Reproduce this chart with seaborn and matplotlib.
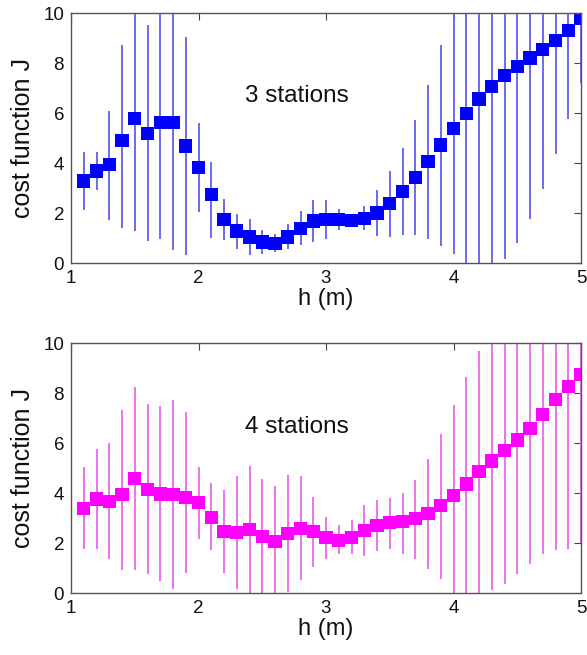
import numpy as np
import pandas as pd
import matplotlib
matplotlib.use("Agg")
import matplotlib.pyplot as plt
import seaborn as sns

# ---------------- data ----------------
h = [1.1, 1.2, 1.3, 1.4, 1.5, 1.6, 1.7, 1.8, 1.9, 2.0,
     2.1, 2.2, 2.3, 2.4, 2.5, 2.6, 2.7, 2.8, 2.9, 3.0,
     3.1, 3.2, 3.3, 3.4, 3.5, 3.6, 3.7, 3.8, 3.9, 4.0,
     4.1, 4.2, 4.3, 4.4, 4.5, 4.6, 4.7, 4.8, 4.9, 5.0]

j3_mean = [3.28, 3.68, 3.93, 4.89, 5.79, 5.19, 5.63, 5.63, 4.68, 3.81,
           2.75, 1.74, 1.28, 1.04, 0.84, 0.78, 1.04, 1.38, 1.68, 1.75,
           1.74, 1.71, 1.78, 2.00, 2.38, 2.87, 3.41, 4.05, 4.72, 5.39,
           5.99, 6.56, 7.06, 7.49, 7.86, 8.20, 8.53, 8.89, 9.30, 9.80]
j3_low = [2.11, 2.91, 1.74, 1.42, 1.28, 0.88, 0.98, 0.51, 0.31, 2.03,
          1.02, 0.94, 0.57, 0.31, 0.35, 0.44, 0.57, 0.71, 0.84, 0.98,
          1.31, 1.50, 1.31, 1.07, 1.04, 1.11, 1.11, 0.98, 0.68, 0.35,
          -1.0, -1.0, -1.0, 0.17, 0.80, 1.78, 2.98, 4.36, 5.75, 7.20]
j3_high = [4.45, 4.45, 6.10, 8.73, 12.0, 9.53, 12.0, 12.0, 9.04, 5.59,
           4.05, 2.58, 1.98, 1.78, 1.34, 1.18, 1.55, 2.09, 2.51, 2.51,
           2.18, 1.90, 2.27, 2.94, 3.69, 4.59, 5.72, 7.13, 8.73, 12.0,
           12.0, 12.0, 12.0, 12.0, 12.0, 12.0, 12.0, 12.0, 12.0, 12.0]

j4_mean = [3.38, 3.76, 3.65, 3.94, 4.59, 4.14, 3.96, 3.94, 3.81, 3.61,
           3.02, 2.46, 2.43, 2.55, 2.25, 2.07, 2.38, 2.58, 2.45, 2.22,
           2.11, 2.22, 2.51, 2.71, 2.83, 2.87, 2.98, 3.18, 3.49, 3.89,
           4.36, 4.85, 5.28, 5.70, 6.12, 6.59, 7.13, 7.73, 8.26, 8.73]
j4_low = [1.78, 1.78, 1.38, 0.94, 0.94, 0.75, 0.48, 0.17, 0.80, 2.18,
          1.71, 0.80, 0.17, -1.0, -1.0, -1.0, 0.04, 0.51, 1.04, 1.38,
          1.55, 1.55, 1.47, 1.68, 1.78, 1.55, 1.38, 0.98, 0.57, 0.00,
          -1.0, -1.0, 0.13, 0.35, 0.75, 1.18, 1.55, 1.71, 1.78, 2.00]
j4_high = [5.05, 5.76, 5.99, 7.33, 8.26, 7.57, 7.50, 7.73, 7.26, 5.05,
           4.39, 4.14, 4.69, 5.09, 4.55, 4.28, 4.72, 4.69, 3.85, 3.05,
           2.71, 2.91, 3.52, 3.74, 3.82, 4.01, 4.52, 5.35, 6.36, 7.53,
           8.64, 9.67, 12.0, 12.0, 12.0, 12.0, 12.0, 12.0, 12.0, 12.0]

panel_labels = ["3 stations", "4 stations"]
x_ticks = [1, 2, 3, 4, 5]
y_ticks = [0, 2, 4, 6, 8, 10]

# ---------------- style ----------------
sns.set_theme(style="white")
plt.rcParams["font.family"] = ["Liberation Sans", "DejaVu Sans"]
plt.rcParams["xtick.direction"] = "in"
plt.rcParams["ytick.direction"] = "in"

W, H = 587, 655
fig = plt.figure(figsize=(W / 100, H / 100), dpi=100)

def px_axes(left, top, right, bottom):
    return fig.add_axes([left / W, 1 - bottom / H, (right - left) / W, (bottom - top) / H])

ax1 = px_axes(71, 13, 581, 263)
ax2 = px_axes(71, 343, 581, 593)

panels = [
    (ax1, j3_mean, j3_low, j3_high, "#0000ff", "#6a6af0", panel_labels[0], 6.7),
    (ax2, j4_mean, j4_low, j4_high, "#ff00ff", "#f070f0", panel_labels[1], 6.65),
]

for ax, mean, low, high, mcol, ecol, label, ty in panels:
    df = pd.DataFrame({"h": h, "J": mean, "lo": low, "hi": high})
    ax.vlines(df["h"], df["lo"], df["hi"], colors=ecol, linewidth=1.4, zorder=2)
    sns.scatterplot(data=df, x="h", y="J", marker="s", s=90, color=mcol,
                    edgecolor="none", ax=ax, zorder=3, clip_on=True, legend=False)
    ax.set_xlim(1, 5)
    ax.set_ylim(0, 10)
    ax.set_xticks(x_ticks)
    ax.set_yticks(y_ticks)
    ax.set_xticklabels([str(t) for t in x_ticks])
    ax.set_yticklabels([str(t) for t in y_ticks])
    ax.tick_params(axis="both", which="both", direction="in", length=5, width=0.8,
                   color="#444444", labelsize=13.5, labelcolor="#111111",
                   top=True, right=True, pad=5)
    for sp in ax.spines.values():
        sp.set_visible(True)
        sp.set_color("#555555")
        sp.set_linewidth(1.0)
        sp.set_zorder(4)
    ax.set_xlabel("h (m)", fontsize=17, labelpad=1, color="#111111")
    ax.set_ylabel("cost function J", fontsize=18, labelpad=6, color="#111111")
    ax.text(2.77, ty, label, fontsize=17.5, ha="center", va="center", color="#111111")
    ax.set_facecolor("white")

fig.savefig("out.png", dpi=100, facecolor="white")
